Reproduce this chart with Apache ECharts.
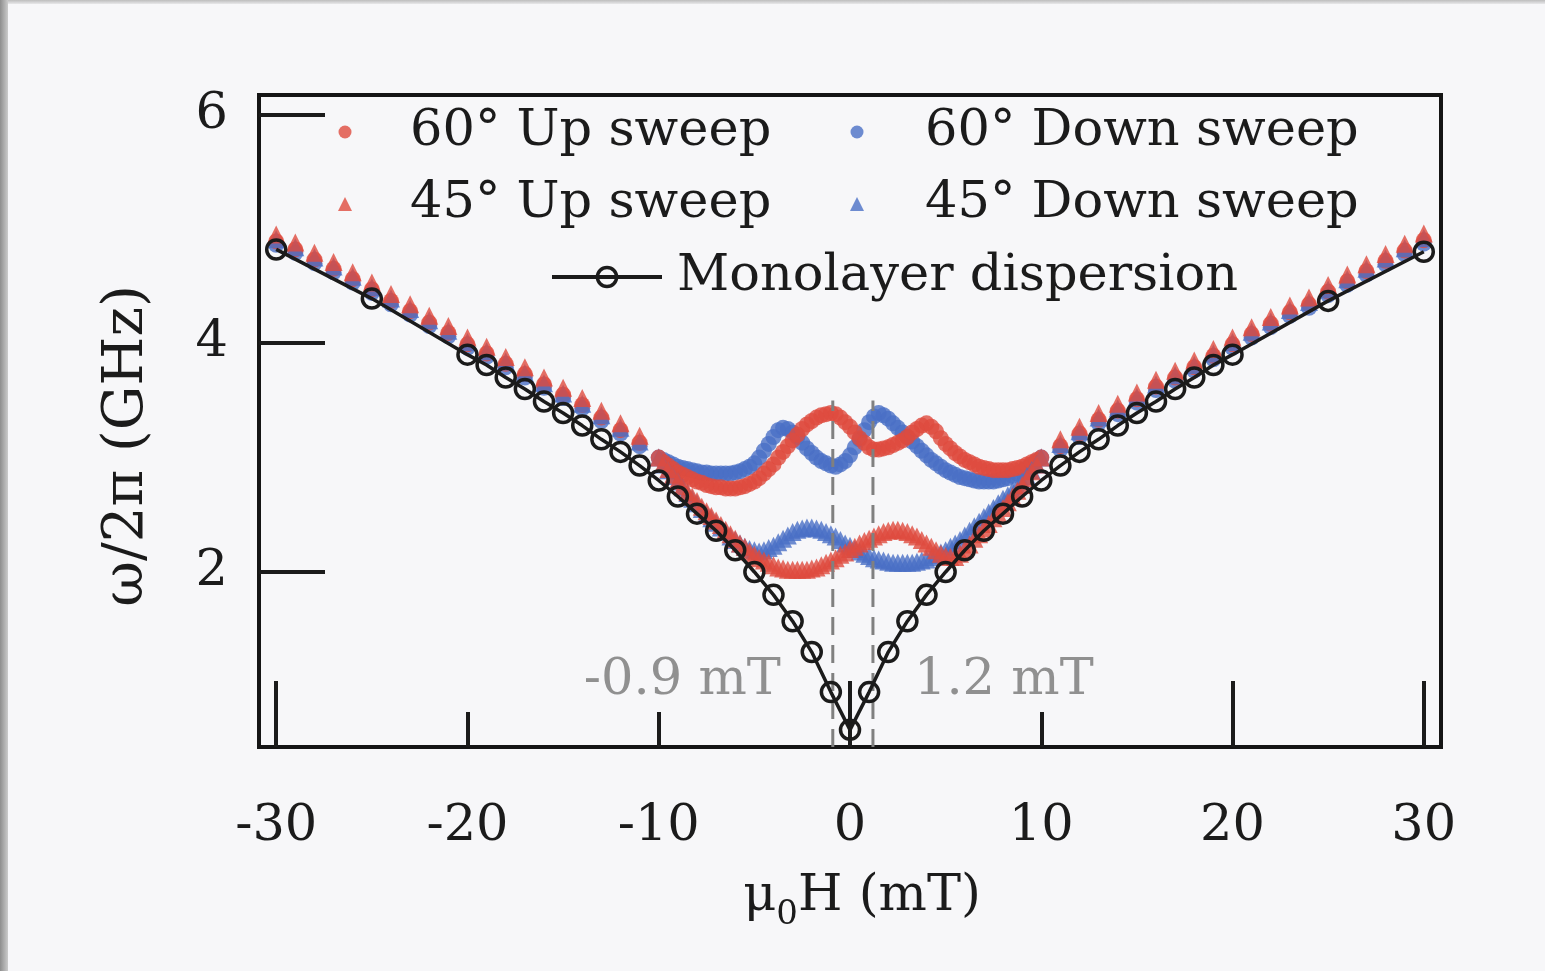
<!DOCTYPE html>
<html>
<head>
<meta charset="utf-8">
<script src="https://cdn.jsdelivr.net/npm/echarts@6/dist/echarts.min.js"></script>
<style>
  html, body { margin: 0; padding: 0; width: 1545px; height: 971px; background: #f7f7f9; overflow: hidden; }
  #chart { position: absolute; left: 0; top: 0; width: 1545px; height: 971px; }
  .edge-left { position: absolute; left: 0; top: 0; width: 8px; height: 971px; background: linear-gradient(to right, #8e8e8e, #cbcbcb); }
  .edge-top { position: absolute; left: 0; top: 0; width: 1545px; height: 4px; background: linear-gradient(to bottom, #bdbdbd, #e8e8ea); }
</style>
</head>
<body>
<div id="chart"></div>
<div class="edge-top"></div>
<div class="edge-left"></div>
<script>
// Field values (mT) of the sweep points away from the hysteretic region
const fieldOuter = [-30, -29, -28, -27, -26, -25, -24, -23, -22, -21, -20, -19, -18, -17, -16, -15, -14, -13, -12, -11,
  11, 12, 13, 14, 15, 16, 17, 18, 19, 20, 21, 22, 23, 24, 25, 26, 27, 28, 29, 30];

// Field values (mT) inside the hysteretic region
const fieldCore = [-10, -9.75, -9.5, -9.25, -9, -8.75, -8.5, -8.25, -8, -7.75, -7.5, -7.25, -7, -6.75, -6.5, -6.25,
  -6, -5.75, -5.5, -5.25, -5, -4.75, -4.5, -4.25, -4, -3.75, -3.5, -3.25, -3, -2.75, -2.5, -2.25, -2, -1.75, -1.5,
  -1.25, -1, -0.75, -0.5, -0.25, 0, 0.25, 0.5, 0.75, 1, 1.25, 1.5, 1.75, 2, 2.25, 2.5, 2.75, 3, 3.25, 3.5, 3.75,
  4, 4.25, 4.5, 4.75, 5, 5.25, 5.5, 5.75, 6, 6.25, 6.5, 6.75, 7, 7.25, 7.5, 7.75, 8, 8.25, 8.5, 8.75, 9, 9.25,
  9.5, 9.75, 10];

// Resonance frequencies (GHz), outer region
const up60Outer = [4.89, 4.82, 4.73, 4.65, 4.56, 4.47, 4.37, 4.28, 4.18, 4.09, 3.99, 3.91, 3.82, 3.73, 3.64, 3.55, 3.46, 3.35, 3.24, 3.13,
  3.10, 3.21, 3.33, 3.41, 3.51, 3.62, 3.70, 3.79, 3.89, 3.99, 4.08, 4.17, 4.27, 4.34, 4.45, 4.54, 4.63, 4.72, 4.81, 4.90];
const down60Outer = [4.86, 4.79, 4.70, 4.62, 4.53, 4.44, 4.34, 4.25, 4.15, 4.06, 3.96, 3.88, 3.79, 3.70, 3.61, 3.52, 3.43, 3.32, 3.21, 3.10,
  3.07, 3.18, 3.30, 3.38, 3.48, 3.59, 3.67, 3.76, 3.86, 3.96, 4.05, 4.14, 4.24, 4.31, 4.42, 4.51, 4.60, 4.69, 4.78, 4.87];
const up45Outer = [4.95, 4.88, 4.79, 4.71, 4.62, 4.53, 4.43, 4.34, 4.24, 4.15, 4.05, 3.97, 3.88, 3.79, 3.70, 3.61, 3.52, 3.41, 3.30, 3.19,
  3.16, 3.27, 3.39, 3.47, 3.57, 3.68, 3.76, 3.85, 3.95, 4.05, 4.14, 4.23, 4.33, 4.40, 4.51, 4.60, 4.69, 4.78, 4.87, 4.96];
const down45Outer = [4.91, 4.84, 4.75, 4.67, 4.58, 4.49, 4.39, 4.30, 4.20, 4.11, 4.01, 3.93, 3.84, 3.74, 3.65, 3.56, 3.47, 3.37, 3.26, 3.14,
  3.12, 3.23, 3.35, 3.43, 3.53, 3.64, 3.72, 3.81, 3.91, 4.01, 4.10, 4.19, 4.29, 4.36, 4.47, 4.56, 4.65, 4.74, 4.83, 4.92];

// Resonance frequencies (GHz), hysteretic region
const up60Core = [3.00, 2.96, 2.93, 2.90, 2.87, 2.85, 2.83, 2.81, 2.79, 2.78,
  2.76, 2.75, 2.74, 2.74, 2.73, 2.73, 2.73, 2.74, 2.75, 2.77,
  2.79, 2.82, 2.86, 2.90, 2.94, 3.00, 3.05, 3.10, 3.15, 3.20,
  3.25, 3.29, 3.32, 3.35, 3.37, 3.38, 3.39, 3.38, 3.35, 3.31,
  3.27, 3.22, 3.17, 3.13, 3.09, 3.07, 3.07, 3.08, 3.09, 3.11,
  3.13, 3.15, 3.18, 3.22, 3.25, 3.28, 3.30, 3.27, 3.23, 3.17,
  3.12, 3.08, 3.04, 3.01, 2.98, 2.96, 2.94, 2.92, 2.91, 2.90,
  2.89, 2.89, 2.89, 2.89, 2.90, 2.91, 2.92, 2.94, 2.96, 2.98,
  3.00];
const down60Core = [3.00, 2.98, 2.96, 2.94, 2.92, 2.91, 2.90, 2.89, 2.88, 2.87,
  2.87, 2.86, 2.86, 2.86, 2.86, 2.86, 2.87, 2.88, 2.90, 2.92,
  2.95, 3.00, 3.06, 3.12, 3.18, 3.24, 3.26, 3.25, 3.22, 3.18,
  3.13, 3.08, 3.04, 3.00, 2.97, 2.95, 2.93, 2.92, 2.94, 2.97,
  3.02, 3.09, 3.16, 3.24, 3.31, 3.36, 3.39, 3.37, 3.34, 3.30,
  3.26, 3.22, 3.18, 3.14, 3.10, 3.06, 3.02, 2.98, 2.95, 2.92,
  2.89, 2.87, 2.85, 2.83, 2.82, 2.81, 2.80, 2.79, 2.79, 2.79,
  2.79, 2.80, 2.81, 2.82, 2.84, 2.86, 2.88, 2.91, 2.94, 2.97,
  3.00];
const up45Core = [3.00, 2.95, 2.90, 2.85, 2.80, 2.75, 2.70, 2.66, 2.62, 2.57,
  2.53, 2.49, 2.45, 2.41, 2.37, 2.33, 2.29, 2.25, 2.22, 2.18,
  2.15, 2.12, 2.10, 2.08, 2.06, 2.04, 2.03, 2.02, 2.02, 2.02,
  2.02, 2.02, 2.03, 2.04, 2.06, 2.08, 2.10, 2.12, 2.15, 2.17,
  2.20, 2.22, 2.25, 2.27, 2.29, 2.31, 2.33, 2.35, 2.36, 2.37,
  2.37, 2.36, 2.35, 2.33, 2.31, 2.28, 2.25, 2.22, 2.19, 2.16,
  2.14, 2.13, 2.13, 2.16, 2.20, 2.24, 2.29, 2.33, 2.38, 2.42,
  2.47, 2.51, 2.56, 2.61, 2.66, 2.71, 2.76, 2.82, 2.88, 2.94,
  3.00];
const down45Core = [3.00, 2.94, 2.89, 2.84, 2.79, 2.74, 2.69, 2.64, 2.60, 2.55,
  2.51, 2.47, 2.43, 2.39, 2.35, 2.31, 2.28, 2.25, 2.22, 2.20,
  2.19, 2.18, 2.19, 2.21, 2.23, 2.26, 2.29, 2.32, 2.35, 2.37,
  2.38, 2.39, 2.39, 2.38, 2.37, 2.35, 2.33, 2.31, 2.28, 2.25,
  2.23, 2.20, 2.18, 2.16, 2.14, 2.12, 2.11, 2.10, 2.09, 2.08,
  2.08, 2.08, 2.08, 2.08, 2.09, 2.10, 2.11, 2.13, 2.15, 2.17,
  2.19, 2.22, 2.25, 2.28, 2.32, 2.36, 2.40, 2.44, 2.48, 2.52,
  2.56, 2.60, 2.64, 2.67, 2.71, 2.75, 2.79, 2.84, 2.89, 2.94,
  3.00];

// Calculated monolayer dispersion
const monoField = [-30, -25, -20, -19, -18, -17, -16, -15, -14, -13, -12, -11, -10, -9, -8, -7, -6, -5, -4, -3, -2, -1,
  0, 1, 2, 3, 4, 5, 6, 7, 8, 9, 10, 11, 12, 13, 14, 15, 16, 17, 18, 19, 20, 25, 30];
const monoFreq = [4.82, 4.39, 3.90, 3.81, 3.70, 3.60, 3.49, 3.39, 3.28, 3.16, 3.05, 2.93, 2.80, 2.66, 2.51, 2.36, 2.19, 2.00, 1.80, 1.57, 1.30, 0.95,
  0.62, 0.95, 1.30, 1.57, 1.80, 2.00, 2.19, 2.36, 2.51, 2.66, 2.80, 2.93, 3.05, 3.16, 3.28, 3.39, 3.49, 3.60, 3.70, 3.81, 3.90, 4.37, 4.80];

// Fields where the up/down branches cross, marked with dashed guides
const crossingFields = [-0.9, 1.2];
const crossingTop = 3.5;

// Axis ranges and ticks
const fieldRange = [-30.9, 30.9];
const freqRange = [0.47, 6.17];
const fieldLabels = [-30, -20, -10, 0, 10, 20, 30];
const fieldTicksLong = [-30, 0, 20, 30];
const fieldTicksShort = [-20, -10, 10];
const freqTicks = [2, 4, 6];

const FONT = 'DejaVu Serif';
const FS = 51;
const RED = '#df4b3e';
const BLUE = '#4a6fc6';
const INK = '#1b1b1b';
const GREY = '#767676';

const pairs = (xs, ys) => xs.map((x, i) => [x, ys[i]]);

const chart = echarts.init(document.getElementById('chart'), null, { renderer: 'canvas' });

const textStyle = { fontFamily: FONT, fontSize: FS, color: INK, lineHeight: 56 };

function legendAt(name, left, top, w, h, padLeft, extra) {
  return Object.assign({
    data: [name],
    left: left, top: top,
    orient: 'horizontal',
    padding: 0,
    itemWidth: w, itemHeight: h,
    selectedMode: false,
    textStyle: Object.assign({}, textStyle, { padding: [0, 0, 0, padLeft] })
  }, extra || {});
}

const monoItemStyle = { color: 'rgba(0,0,0,0)', borderColor: INK, borderWidth: 3.5 };
const monoLineStyle = { color: INK, width: 4 };

const option = {
  animation: false,
  backgroundColor: 'transparent',
  grid: {
    left: 259, top: 95, width: 1182, height: 652,
    show: true, borderColor: '#151515', borderWidth: 4, backgroundColor: 'transparent'
  },
  legend: [
    legendAt('60° Up sweep', 338.5, 104, 13, 13, 53.5),
    legendAt('60° Down sweep', 850.5, 104, 13, 13, 56.5),
    legendAt('45° Up sweep', 338, 176, 14, 14, 53),
    legendAt('45° Down sweep', 850, 176, 14, 14, 56),
    legendAt('Monolayer dispersion', 550, 249, 110, 24, 10, {
      data: [{ name: 'Monolayer dispersion', itemStyle: monoItemStyle, lineStyle: monoLineStyle }],
      itemStyle: monoItemStyle,
      lineStyle: monoLineStyle
    })
  ],
  xAxis: [{
    type: 'value', min: fieldRange[0], max: fieldRange[1], position: 'bottom',
    name: '{m|μ}{s|0}{m|H (mT)}',
    nameLocation: 'middle', nameGap: 115,
    nameTextStyle: {
      padding: [0, 0, 0, 24],
      rich: {
        m: { fontFamily: FONT, fontSize: FS, color: INK, lineHeight: 70, verticalAlign: 'middle' },
        s: { fontFamily: FONT, fontSize: 34, color: INK, lineHeight: 70, verticalAlign: 'bottom' }
      }
    },
    axisLine: { show: false, onZero: false },
    splitLine: { show: false },
    axisTick: { show: true, inside: true, length: 66, customValues: fieldTicksLong, lineStyle: { color: INK, width: 4 } },
    axisLabel: { show: true, customValues: fieldLabels, margin: 54, fontFamily: FONT, fontSize: FS, color: INK,
      formatter: v => String(v) }
  }, {
    type: 'value', min: fieldRange[0], max: fieldRange[1], position: 'bottom',
    axisLine: { show: false, onZero: false },
    splitLine: { show: false },
    axisLabel: { show: false },
    axisTick: { show: true, inside: true, length: 35, customValues: fieldTicksShort, lineStyle: { color: INK, width: 4 } }
  }],
  yAxis: {
    type: 'value', min: freqRange[0], max: freqRange[1], position: 'left',
    name: 'ω/2π (GHz)', nameLocation: 'middle', nameRotate: 90, nameGap: 104,
    nameTextStyle: { fontFamily: FONT, fontSize: 56, color: INK, padding: [0, 50, 0, 0] },
    axisLine: { show: false, onZero: false },
    splitLine: { show: false },
    axisTick: { show: true, inside: true, length: 66, customValues: freqTicks, lineStyle: { color: INK, width: 4 } },
    axisLabel: { show: true, customValues: freqTicks, margin: 31, fontFamily: FONT, fontSize: FS, color: INK }
  },
  series: [
    {
      name: '60° Down sweep', type: 'scatter', symbol: 'circle', symbolSize: 16, z: 2,
      itemStyle: { color: BLUE },
      data: pairs(fieldOuter, down60Outer).concat(pairs(fieldCore, down60Core))
    },
    {
      name: '60° Up sweep', type: 'scatter', symbol: 'circle', symbolSize: 16, z: 2,
      itemStyle: { color: RED },
      data: pairs(fieldOuter, up60Outer).concat(pairs(fieldCore, up60Core))
    },
    {
      name: '45° Down sweep', type: 'scatter', symbol: 'triangle', symbolSize: 18, z: 2,
      itemStyle: { color: BLUE },
      data: pairs(fieldOuter, down45Outer).concat(pairs(fieldCore, down45Core))
    },
    {
      name: '45° Up sweep', type: 'scatter', symbol: 'triangle', symbolSize: 18, z: 2,
      itemStyle: { color: RED },
      data: pairs(fieldOuter, up45Outer).concat(pairs(fieldCore, up45Core))
    }
  ].concat(crossingFields.map(x => ({
    type: 'line', silent: true, symbol: 'none', z: 3,
    lineStyle: { color: '#808080', width: 3, type: [18, 10] },
    data: [[x, freqRange[0]], [x, crossingTop]]
  }))).concat([
    {
      type: 'scatter', silent: true, symbolSize: 0, z: 4,
      label: {
        show: true, fontFamily: FONT, fontSize: FS, color: GREY,
        formatter: p => p.value[0] + ' mT'
      },
      data: [
        { value: [crossingFields[0], 1.05], label: { position: 'left', distance: 52 } },
        { value: [crossingFields[1], 1.05], label: { position: 'right', distance: 41 } }
      ]
    },
    {
      name: 'Monolayer dispersion', type: 'line', symbol: 'circle', symbolSize: 19, z: 5,
      itemStyle: monoItemStyle,
      lineStyle: { color: INK, width: 3.5 },
      data: pairs(monoField, monoFreq)
    }
  ])
};

chart.setOption(option);
</script>
</body>
</html>
